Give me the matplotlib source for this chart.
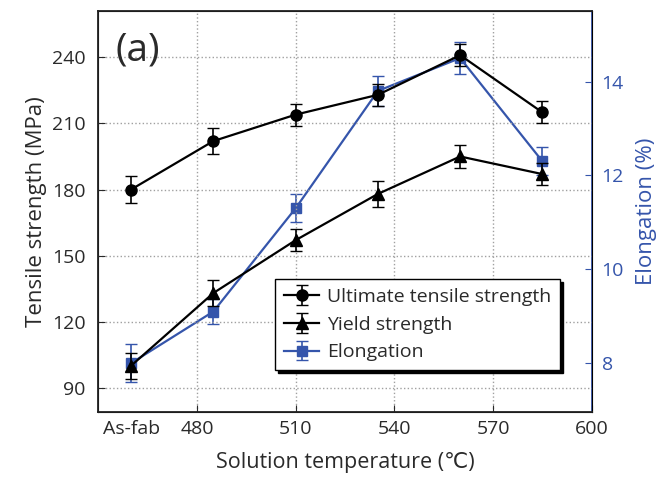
import matplotlib.pyplot as plt

plt.rcParams['font.family'] = ['Open Sans', 'DejaVu Sans']

temps = [460, 485, 510, 535, 560, 585]
uts = [180, 202, 214, 223, 241, 215]
uts_err = [6, 6, 5, 5, 5, 5]
ys = [100, 133, 157, 178, 195, 187]
ys_err = [6, 6, 5, 6, 5, 5]
elong = [8.0, 9.1, 11.3, 13.8, 14.5, 12.3]
elong_err = [0.4, 0.27, 0.3, 0.32, 0.35, 0.3]

xticks = [460, 480, 510, 540, 570, 600]
xticklabels = ['As-fab', '480', '510', '540', '570', '600']
yticks = [90, 120, 150, 180, 210, 240]
yticks_r = [8, 10, 12, 14]

blue = '#3555ab'
txt = '#2a2a2a'

fig, ax = plt.subplots(figsize=(6.59, 4.83), dpi=100)
fig.subplots_adjust(left=0.149, right=0.898, top=0.977, bottom=0.147)
ax2 = ax.twinx()

l1 = ax.errorbar(temps, uts, yerr=uts_err, color='black', marker='o', ms=8, lw=1.6,
                 capsize=4, elinewidth=1.2, label='Ultimate tensile strength')
l2 = ax.errorbar(temps, ys, yerr=ys_err, color='black', marker='^', ms=8, lw=1.6,
                 capsize=4, elinewidth=1.2, label='Yield strength')
l3 = ax2.errorbar(temps, elong, yerr=elong_err, color=blue, marker='s', ms=7, lw=1.6,
                  capsize=4, elinewidth=1.2, ecolor=blue, label='Elongation')

ax.set_xlim(450, 600)
ax.set_ylim(79, 261)
ax2.set_ylim(6.96, 15.5)

ax.set_xticks(xticks)
ax.set_xticklabels(xticklabels)
ax.set_yticks(yticks)
ax2.set_yticks(yticks_r)

for x in [480, 510, 540, 570]:
    ax.axvline(x, color='#a0a0a0', ls=':', lw=1, zorder=0)
for y in yticks:
    ax.axhline(y, color='#a0a0a0', ls=':', lw=1, zorder=0)

ax.tick_params(axis='both', direction='in', labelsize=14, colors=txt, length=5)
ax.tick_params(axis='y', pad=9)
ax.tick_params(axis='x', pad=6)
ax.xaxis.get_major_ticks()[0].tick1line.set_visible(False)
ax2.tick_params(axis='y', direction='in', labelsize=14, colors=blue, length=5, pad=7)
ax2.spines['right'].set_color(blue)
ax2.spines['right'].set_linewidth(1.3)
for s in ['left', 'top', 'bottom']:
    ax.spines[s].set_linewidth(1.3)
    ax.spines[s].set_color('#222222')

ax.set_xlabel('Solution temperature (℃)', fontsize=15.5, color=txt, labelpad=10)
ax.set_ylabel('Tensile strength (MPa)', fontsize=16, color=txt, labelpad=4)
ax2.set_ylabel('Elongation (%)', fontsize=16, color=blue, labelpad=9)

ax.text(0.035, 0.95, '(a)', transform=ax.transAxes, fontsize=28, va='top', color=txt)

leg = ax.legend([l1, l2, l3], ['Ultimate tensile strength', 'Yield strength', 'Elongation'],
                loc='lower right', bbox_to_anchor=(0.955, 0.08), fontsize=14,
                frameon=True, fancybox=False,
                shadow={'color': 'black', 'alpha': 1.0}, edgecolor='black',
                handlelength=1.8, handletextpad=0.4, borderpad=0.45, labelspacing=0.5)
leg.get_frame().set_linewidth(1.0)
for t in leg.get_texts():
    t.set_color(txt)
ax2.set_zorder(ax.get_zorder() - 1)
ax.patch.set_visible(False)

fig.savefig('out.png', dpi=100)
